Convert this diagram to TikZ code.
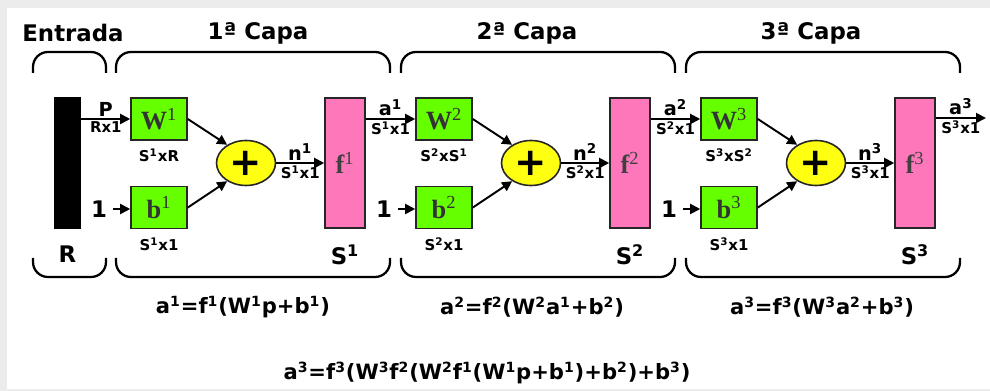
\documentclass[tikz,border=0pt]{standalone}
\usepackage{fontspec}
\setmainfont{DejaVu Sans}
\newfontfamily\boxfont{Liberation Serif}
\usepackage{xcolor}
\usepackage{tikz}
\usetikzlibrary{positioning,shapes.geometric,arrows.meta,calc}

\definecolor{wgreen}{HTML}{66FF00}
\definecolor{fpink}{HTML}{FF77BB}
\definecolor{sumyellow}{HTML}{FFFF11}
\definecolor{framegray}{HTML}{ECECEC}

\newcommand{\sps}[1]{\textsuperscript{#1}}

\begin{document}
\begin{tikzpicture}[
    x=0.02cm, y=-0.02cm,
    weight/.style={rectangle, draw=black!85, fill=wgreen, line width=0.9pt,
                   minimum width=1.12cm, minimum height=0.84cm, inner sep=0pt,
                   font=\boxfont\bfseries\fontsize{15}{15}\selectfont, text=black!80},
    transfer/.style={rectangle, draw=black!85, fill=fpink, line width=0.9pt,
                     minimum width=0.8cm, minimum height=2.6cm, inner sep=0pt,
                     font=\boxfont\bfseries\fontsize{15}{15}\selectfont, text=black!75},
    summer/.style={ellipse, draw=black!85, fill=sumyellow, line width=0.9pt,
                   minimum width=1.18cm, minimum height=0.9cm, inner sep=0pt,
                   font=\bfseries\fontsize{22}{22}\selectfont},
    title/.style={font=\bfseries\fontsize{13}{13}\selectfont},
    dim/.style={font=\bfseries\fontsize{8.5}{8.5}\selectfont, inner sep=1pt},
    sig/.style={font=\bfseries\fontsize{11}{11}\selectfont, inner sep=1pt},
    eq/.style={font=\bfseries\fontsize{12}{12}\selectfont},
    arrow/.style={-{Triangle[length=0.2cm,width=0.2cm]}, line width=1.1pt},
    brace/.style={line width=1.3pt, rounded corners=0.3cm}
]
\useasboundingbox (0,0) rectangle (990,391);
\fill[framegray] (0,0) rectangle (990,391);
\fill[white] (7,8) rectangle (990,389);

% Input
\node[title] (tin) at (73,33) {Entrada};
\node[fill=black, minimum width=0.54cm, minimum height=2.64cm, inner sep=0pt] (inbar) at (67.5,163) {};
\node[title, below=0.2cm of inbar] (rlabel) {R};
\draw[brace] (33,73) -- (33,52) -- (106,52) -- (106,73);
\draw[brace] (33,258) -- (33,277) -- (106,277) -- (106,258);

% Layers
\foreach \i/\x/\tx/\wdim in {1/0/258/S\sps{1}xR, 2/285/527/S\sps{2}xS\sps{1}, 3/570/811/S\sps{3}xS\sps{2}} {
  \node[title] (title\i) at (\tx,33) {{\i}ª Capa};
  \draw[brace] (116+\x,73) -- (116+\x,52) -- (390+\x,52) -- (390+\x,73);
  \draw[brace] (116+\x,258) -- (116+\x,277) -- (390+\x,277) -- (390+\x,258);

  \node[weight] (W\i) at (159+\x,119) {W\sps{\mdseries\i}};
  \node[weight, below=0.9cm of W\i] (b\i) {b\sps{\mdseries\i}};
  \node[dim, below=0.12cm of W\i] (wd\i) {\wdim};
  \node[dim, below=0.12cm of b\i] (bd\i) {S\sps{\i}x1};
  \node[title] (one\i) at (99+\x,209) {1};
  \node[summer] (sum\i) at (246+\x,163) {+};
  \node[transfer] (f\i) at (345+\x,163) {f\sps{\mdseries\i}};
  \node[title, below=0.2cm of f\i] (s\i) {S\sps{\i}};

  \draw[arrow] (one\i.east) -- (b\i.west |- one\i.east);
  \draw[arrow] (W\i.east) -- (sum\i.136);
  \draw[arrow] (b\i.east) -- (sum\i.224);
  \draw[arrow] (sum\i.east) -- node[above, sig] (n\i) {n\sps{\i}}
                                node[below, dim] (nd\i) {S\sps{\i}x1} (f\i.west);
}

% Signals between layers
\draw[arrow] (inbar.east |- W1.west) -- node[above, sig] (plabel) {P}
                                        node[below, dim] (pdim) {Rx1} (W1.west);
\foreach \i/\j in {1/W2, 2/W3} {
  \draw[arrow] (f\i.east |- \j.west) -- node[above, sig] (a\i) {a\sps{\i}}
                                        node[below, dim] (ad\i) {S\sps{\i}x1} (\j.west);
}
\coordinate (aout) at (986,118);
\draw[arrow] (f3.east |- aout) -- node[above, sig] (a3) {a\sps{3}}
                                  node[below, dim] (ad3) {S\sps{3}x1} (aout);

% Equations
\node[eq] (eq1) at (243,307) {a\sps{1}=f\sps{1}(W\sps{1}p+b\sps{1})};
\node[eq] (eq2) at (532,307) {a\sps{2}=f\sps{2}(W\sps{2}a\sps{1}+b\sps{2})};
\node[eq] (eq3) at (822,307) {a\sps{3}=f\sps{3}(W\sps{3}a\sps{2}+b\sps{3})};
\node[eq] (eqall) at (487,373) {a\sps{3}=f\sps{3}(W\sps{3}f\sps{2}(W\sps{2}f\sps{1}(W\sps{1}p+b\sps{1})+b\sps{2})+b\sps{3})};

\end{tikzpicture}
\end{document}
